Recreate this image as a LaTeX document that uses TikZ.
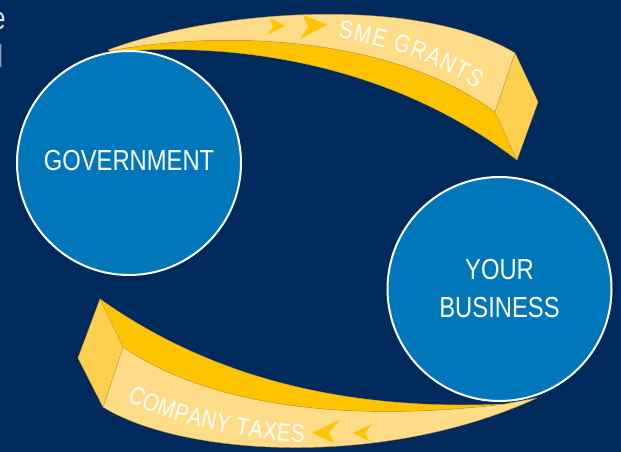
\documentclass[tikz,border=0pt]{standalone}
\usepackage{fontspec}
\setmainfont[FakeStretch=0.82]{Liberation Sans}
\usetikzlibrary{decorations.text}

\definecolor{bgnavy}{RGB}{0,41,92}
\definecolor{circblue}{RGB}{0,119,187}
\definecolor{facelight}{RGB}{255,220,136}
\definecolor{facedark}{RGB}{255,196,0}
\definecolor{facecap}{RGB}{255,208,80}
\definecolor{edgegold}{RGB}{196,158,64}
\newcommand{\ribbonfont}{\fontsize{25}{25}\selectfont\color{white}}

\begin{document}
\begin{tikzpicture}[x=1pt,y=-1pt,
  party/.style={circle, draw=white, line width=2pt, fill=circblue,
    minimum size=224pt, inner sep=0pt, text=white, align=center,
    font=\fontsize{29}{38}\selectfont},
  face/.style={draw=edgegold, line width=0.4pt, line join=round},
  chevron/.style={fill=facedark},
  cut/.style={anchor=base east, inner sep=0pt, font=\fontsize{32}{32}\selectfont},
]
\fill[bgnavy] (0,0) rectangle (621,452);
\useasboundingbox (0,0) rectangle (621,452);

% text cut off at the left edge
\node[cut, text=white!85!bgnavy] (cute) at (6,30) {e};
\node[cut, text=white!55!bgnavy] (cutl) at (3.5,67) {l};

% grants ribbon, top
\path[face, fill=facelight] (108,50) .. controls (220,8) and (420,-4) .. (515,53)
  -- (495,112) .. controls (390,35) and (220,30) .. (110,51) -- cycle;
\path[face, fill=facedark] (110,51) .. controls (220,30) and (390,35) .. (495,112)
  -- (517,160) .. controls (400,70) and (250,40) .. (110,52) -- cycle;
\path[face, fill=facecap] (515,53) -- (538,102) -- (517,160) -- (495,112) -- cycle;
\fill[chevron] (285,26) -- (270,18) -- (273,27) -- (267,35) -- cycle;
\fill[chevron] (327,25) -- (303,15) -- (308,27) -- (300,39) -- cycle;
\path[decorate, decoration={text along path, text={|\ribbonfont|SME GRANTS},
  text align=fit to path}] (338,38) .. controls (385,44) and (440,64) .. (476,89);

% taxes ribbon, bottom
\path[face, fill=facelight] (123,347) .. controls (200,400) and (330,425) .. (505,404)
  -- (537,398) .. controls (380,470) and (180,455) .. (103,407) -- cycle;
\path[face, fill=facedark] (100,299) .. controls (200,370) and (330,412) .. (505,404)
  .. controls (330,425) and (200,400) .. (123,347) -- cycle;
\path[face, fill=facecap] (100,299) -- (123,347) -- (103,407) -- (78,358) -- cycle;
\fill[chevron] (312,433) -- (340,420) -- (329,432) -- (334,443) -- cycle;
\fill[chevron] (353,433) -- (372,424) -- (365,433) -- (369,441) -- cycle;
\path[decorate, decoration={text along path, text={|\ribbonfont|COMPANY TAXES},
  text align=fit to path}] (127,400) .. controls (170,424) and (240,438) .. (304,443);

% the two parties
\node[party] (gov) at (129,163) {\raisebox{5pt}{GOVERNMENT}};
\node[party] (biz) at (499.5,289) {YOUR\\BUSINESS};
\end{tikzpicture}
\end{document}
